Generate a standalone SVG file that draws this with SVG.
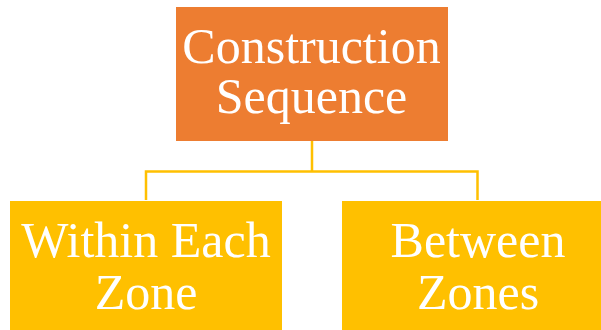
<svg xmlns="http://www.w3.org/2000/svg" width="601" height="330" viewBox="0 0 601 330">
<style>
.t{font-family:"Liberation Serif","Times New Roman",serif;font-size:50px;fill:#ffffff;text-anchor:middle}
.c{fill:none;stroke:#FFC000;stroke-width:2.5}
</style>
<rect width="601" height="330" fill="#ffffff"/>
<g id="connectors">
<path class="c" d="M312 141 V171.5 M146 200 V171.5 H477.5 V200"/>
</g>
<g id="root">
<rect x="176" y="7" width="272" height="134" fill="#ED7D31"/>
<text class="t" x="311.5" y="63">Construction</text>
<text class="t" x="311.5" y="113">Sequence</text>
</g>
<g id="within">
<rect x="10" y="201" width="272" height="134" fill="#FFC000"/>
<text class="t" x="146" y="257">Within Each</text>
<text class="t" x="146" y="309">Zone</text>
</g>
<g id="between">
<rect x="342" y="201" width="272" height="134" fill="#FFC000"/>
<text class="t" x="478" y="257">Between</text>
<text class="t" x="478" y="309">Zones</text>
</g>
</svg>
